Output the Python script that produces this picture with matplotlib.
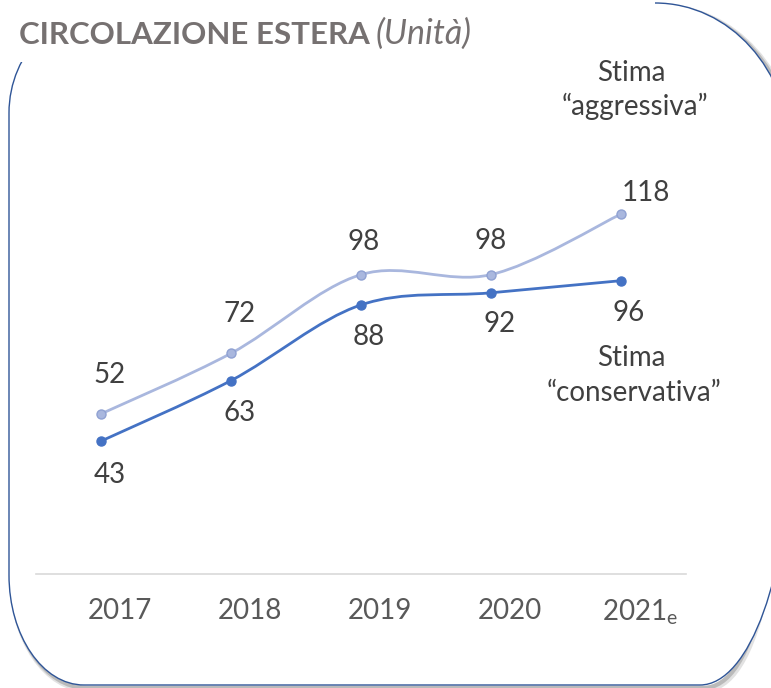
import matplotlib
matplotlib.use("Agg")
import matplotlib.pyplot as plt
import numpy as np
from matplotlib.path import Path
from matplotlib.patches import PathPatch, Rectangle
from matplotlib.transforms import ScaledTranslation, Affine2D

plt.rcParams['font.family'] = ['Lato', 'DejaVu Sans']

# data
years = ["2017", "2018", "2019", "2020", r"$\mathregular{2021_e}$"]
aggressiva = [52, 72, 98, 98, 118]
conservativa = [43, 63, 88, 92, 96]

# label offsets in pixels (dx, dy downwards)
aggr_off = [(9, -39), (9, -39), (3, -33), (0, -34), (25, -21)]
cons_off = [(9, 34), (9, 32), (8, 32), (9, 31), (8, 32)]

C_AGGR = "#A9B7DE"
C_AGGR_EDGE = "#8FA1D2"
C_CONS = "#4472C4"
C_LABEL = "#404040"
C_TICK = "#595959"
C_TITLE = "#767171"

W, H = 771, 688
fig = plt.figure(figsize=(W / 100, H / 100), dpi=100)

# background layer in pixel coords
bg = fig.add_axes([0, 0, 1, 1])
bg.set_xlim(0, W)
bg.set_ylim(H, 0)
bg.axis("off")


def frame_path(x0, y0, x1, y1, tl, tr, br, bl):
    # rounded frame with elliptical corners (rx, ry) given per corner
    k = 0.5523
    v = [(x0 + tl[0], y0), (x1 - tr[0], y0)]
    c = [Path.MOVETO, Path.LINETO]
    v += [(x1 - tr[0] + k * tr[0], y0), (x1, y0 + tr[1] - k * tr[1]), (x1, y0 + tr[1])]
    c += [Path.CURVE4] * 3
    v += [(x1, y1 - br[1])]
    c += [Path.LINETO]
    v += [(x1, y1 - br[1] + k * br[1]), (x1 - br[0] + k * br[0], y1), (x1 - br[0], y1)]
    c += [Path.CURVE4] * 3
    v += [(x0 + bl[0], y1)]
    c += [Path.LINETO]
    v += [(x0 + bl[0] - k * bl[0], y1), (x0, y1 - bl[1] + k * bl[1]), (x0, y1 - bl[1])]
    c += [Path.CURVE4] * 3
    v += [(x0, y0 + tl[1])]
    c += [Path.LINETO]
    v += [(x0, y0 + tl[1] - k * tl[1]), (x0 + tl[0] - k * tl[0], y0), (x0 + tl[0], y0)]
    c += [Path.CURVE4] * 3
    v += [(x0 + tl[0], y0)]
    c += [Path.CLOSEPOLY]
    return Path(v, c)


fp = frame_path(9, 3, 790, 685, (110, 110), (135, 150), (90, 250), (75, 110))
for off, lw, a in [(4, 5, 0.18), (3, 3, 0.3)]:
    bg.add_patch(PathPatch(fp.transformed(Affine2D().translate(off, off)), facecolor="none",
                           edgecolor="#606060", linewidth=lw, alpha=a))
bg.add_patch(PathPatch(fp, facecolor="white", edgecolor="#2F5597", linewidth=1))
bg.add_patch(Rectangle((0, 0), 655, 62, facecolor="white", edgecolor="none"))

bg.text(19, 44, "CIRCOLAZIONE ESTERA", fontsize=22.5, fontweight="bold",
        color=C_TITLE, ha="left", va="baseline")
bg.text(376, 44, "(Unità)", fontsize=24.5, style="italic",
        color=C_TITLE, ha="left", va="baseline")

bg.text(631, 73, "Stima", fontsize=20, color=C_LABEL, ha="center", va="center")
bg.text(635, 106, "“aggressiva”", fontsize=20, color=C_LABEL, ha="center", va="center")
bg.text(631, 358, "Stima", fontsize=20, color=C_LABEL, ha="center", va="center")
bg.text(634, 393, "“conservativa”", fontsize=20, color=C_LABEL, ha="center", va="center")

# main chart
ax = fig.add_axes([36 / W, (H - 574) / H, 650 / W, 514 / H])
ax.set_facecolor("none")
x = np.arange(len(years))


def smooth(xs, ys, t=1 / 6.0):
    pts = np.column_stack([xs, ys]).astype(float)
    n = len(pts)
    verts = [pts[0]]
    codes = [Path.MOVETO]
    for i in range(n - 1):
        p0 = pts[max(i - 1, 0)]
        p1 = pts[i]
        p2 = pts[i + 1]
        p3 = pts[min(i + 2, n - 1)]
        verts += [p1 + (p2 - p0) * t, p2 - (p3 - p1) * t, p2]
        codes += [Path.CURVE4] * 3
    return Path(verts, codes)


for vals, col, edge in [(aggressiva, C_AGGR, C_AGGR_EDGE), (conservativa, C_CONS, C_CONS)]:
    ax.add_patch(PathPatch(smooth(x, vals), facecolor="none", edgecolor=col, linewidth=2, zorder=2))
    ax.plot(x, vals, linestyle="none", marker="o", markersize=6.5,
            markerfacecolor=col, markeredgecolor=edge, markeredgewidth=1, zorder=3)

for vals, offs in [(aggressiva, aggr_off), (conservativa, cons_off)]:
    for xi, v, (dx, dy) in zip(x, vals, offs):
        ax.annotate(str(v), (xi, v), xytext=(dx * 0.72, -dy * 0.72), textcoords="offset points",
                    ha="center", va="center", fontsize=20, color=C_LABEL)

ax.set_xlim(-0.5, 4.5)
ax.set_ylim(-0.9, 168.9)
ax.set_yticks([])
ax.set_xticks(x)
ax.set_xticklabels(years, fontsize=20, color=C_TICK)
ax.tick_params(axis="x", length=0, pad=17)
for lab in ax.get_xticklabels():
    lab.set_transform(lab.get_transform() + ScaledTranslation(19 / 100, 0, fig.dpi_scale_trans))
for s in ["top", "left", "right"]:
    ax.spines[s].set_visible(False)
ax.spines["bottom"].set_color("#D9D9D9")
ax.spines["bottom"].set_linewidth(1.2)

fig.savefig("out.png", dpi=100)
